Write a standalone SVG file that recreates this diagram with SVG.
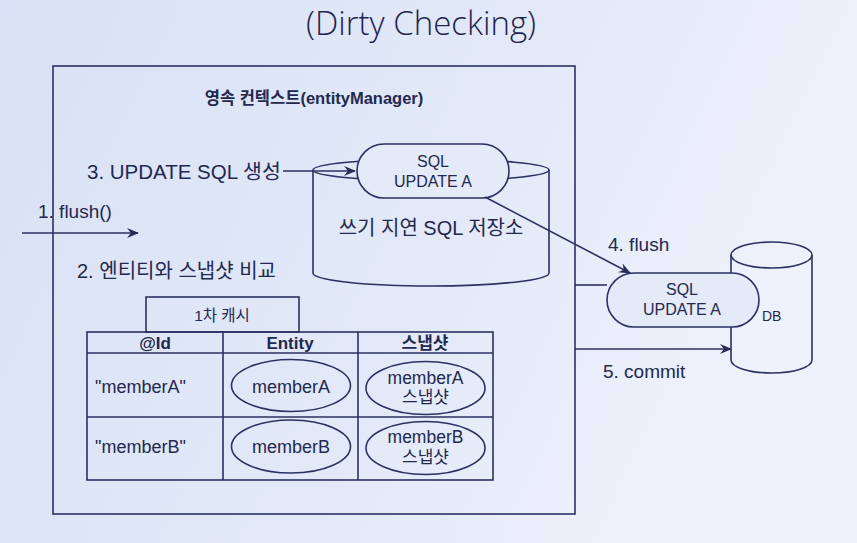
<svg xmlns="http://www.w3.org/2000/svg" width="857" height="543" viewBox="0 0 857 543">
  <defs>
    <linearGradient id="bg" x1="0" y1="0" x2="1" y2="0.3">
      <stop offset="0" stop-color="#d8e1f5"/>
      <stop offset="0.6" stop-color="#e3e9f8"/>
      <stop offset="1" stop-color="#eef2fc"/>
    </linearGradient>
    <marker id="arr" viewBox="0 0 12 10" refX="11" refY="5" markerWidth="12" markerHeight="10" markerUnits="userSpaceOnUse" orient="auto">
      <path d="M0,0 L12,5 L0,10 L4,5 z" fill="#262b55"/>
    </marker>
    <style>
      .s { stroke: #2b3163; stroke-width: 1.6; fill: none; }
      .f { stroke: #2b3163; stroke-width: 1.6; fill: #e4eaf8; }
      .t { font-family: "Liberation Sans", "Noto Sans CJK KR", sans-serif; fill: #23284f; }
      .b { font-weight: bold; }
      .c { text-anchor: middle; }
    </style>
  </defs>
  <rect x="0" y="0" width="857" height="543" fill="url(#bg)"/>

  <text class="c" x="421" y="35" font-size="33" style="font-family:'Open Sans','Liberation Sans',sans-serif;font-weight:300;fill:#1f2450">(Dirty Checking)</text>

  <g id="persistence-context">
    <rect class="s" x="53" y="66" width="522" height="448"/>
    <text class="t c" x="314" y="104" font-size="16.5" font-weight="bold">영속 컨텍스트(entityManager)</text>
  </g>

  <g id="write-behind-store">
    <path class="s" d="M313,170 L313,273 A118,13 0 0 0 549,273 L549,170"/>
    <ellipse class="s" cx="431" cy="170" rx="118" ry="11"/>
    <text class="t c" x="431" y="235" font-size="20">쓰기 지연 SQL 저장소</text>
  </g>

  <g id="sql-store">
    <rect class="f" x="357" y="144" width="152" height="54" rx="27" ry="27"/>
    <text class="t c" x="433" y="167" font-size="16">SQL</text>
    <text class="t c" x="433" y="187" font-size="16">UPDATE A</text>
  </g>

  <g id="db">
    <path class="s" d="M731,255 L731,360 A40.5,13 0 0 0 812,360 L812,255"/>
    <ellipse class="s" cx="771.5" cy="255" rx="40.5" ry="13"/>
    <text class="t" x="762" y="321" font-size="14">DB</text>
  </g>

  <g id="sql-flush">
    <rect class="f" x="607" y="273" width="152" height="54" rx="27" ry="27"/>
    <text class="t c" x="682" y="295" font-size="16">SQL</text>
    <text class="t c" x="682" y="315" font-size="16">UPDATE A</text>
  </g>

  <g id="first-level-cache">
    <rect class="s" x="146" y="297" width="153" height="35"/>
    <text class="t c" x="222" y="321" font-size="15.5">1차 캐시</text>
    <rect class="s" x="87" y="332" width="406" height="148"/>
    <line class="s" x1="87" y1="353" x2="493" y2="353"/>
    <line class="s" x1="87" y1="417" x2="493" y2="417"/>
    <line class="s" x1="223" y1="332" x2="223" y2="480"/>
    <line class="s" x1="358" y1="332" x2="358" y2="480"/>
    <text class="t c b" x="155" y="349" font-size="17">@Id</text>
    <text class="t c b" x="290" y="349" font-size="17">Entity</text>
    <text class="t c b" x="425" y="349" font-size="17">스냅샷</text>
    <text class="t" x="95" y="393" font-size="18">"memberA"</text>
    <text class="t" x="95" y="453" font-size="18">"memberB"</text>
  </g>

  <g id="entity-memberA">
    <ellipse class="s" cx="291" cy="385.5" rx="59.5" ry="26"/>
    <text class="t c" x="291" y="393" font-size="18">memberA</text>
  </g>
  <g id="entity-memberB">
    <ellipse class="s" cx="291" cy="446.5" rx="59.5" ry="26.5"/>
    <text class="t c" x="291" y="453" font-size="18">memberB</text>
  </g>
  <g id="snapshot-memberA">
    <ellipse class="s" cx="425.5" cy="388" rx="59.5" ry="26.5"/>
    <text class="t c" x="425.5" y="384" font-size="17.5">memberA</text>
    <text class="t c" x="425.5" y="403" font-size="17">스냅샷</text>
  </g>
  <g id="snapshot-memberB">
    <ellipse class="s" cx="425.5" cy="448" rx="59.5" ry="26.5"/>
    <text class="t c" x="425.5" y="443" font-size="17.5">memberB</text>
    <text class="t c" x="425.5" y="463" font-size="17">스냅샷</text>
  </g>

  <g id="labels">
    <text class="t" x="87" y="179" font-size="20.5">3. UPDATE SQL 생성</text>
    <text class="t" x="38" y="218" font-size="19">1. flush()</text>
    <text class="t" x="77" y="278" font-size="20">2. 엔티티와 스냅샷 비교</text>
    <text class="t" x="608" y="251" font-size="19">4. flush</text>
    <text class="t" x="603" y="378" font-size="19">5. commit</text>
  </g>

  <g id="connectors">
    <line class="s" x1="283" y1="171" x2="355" y2="171" marker-end="url(#arr)"/>
    <line class="s" x1="22" y1="233" x2="138" y2="233" marker-end="url(#arr)"/>
    <line class="s" x1="485" y1="197" x2="630" y2="273" marker-end="url(#arr)"/>
    <line class="s" x1="575" y1="285" x2="607" y2="285"/>
    <line class="s" x1="575" y1="349" x2="731" y2="349" marker-end="url(#arr)"/>
  </g>
</svg>
